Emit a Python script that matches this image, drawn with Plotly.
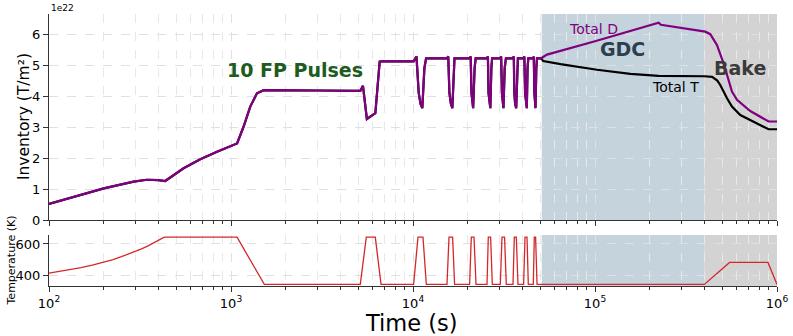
import plotly.graph_objects as go
from plotly.subplots import make_subplots

# ---------------- data ----------------
# Inventory (units of 1e22 T/m^2) common to D and T up to the end of the pulses
shared_time = [100, 142, 200, 292, 345, 400, 435, 549, 678, 838, 1080, 1172, 1276, 1389, 1512, 3000,
               5133, 5310, 5580, 6210, 6560, 6673,
               10077, 10450, 10750, 11000, 11250, 11550, 11800,
               15375, 15620, 15850, 16150, 16450, 16700, 16900,
               20464, 20750, 20950, 21150, 21400, 21800, 22100,
               25506, 25800, 26000, 26250, 26600, 26950, 27200,
               30175, 30500, 30800, 31050, 31400, 31900, 32400,
               35436, 35800, 36050, 36400, 36900, 37300, 37700,
               40528, 40900, 41300, 41700, 42200, 42600, 43000,
               45813, 46100, 46450, 46750, 47100, 47600, 48000, 50500]
shared_inv = [0.52, 0.78, 1.02, 1.24, 1.30, 1.29, 1.26, 1.67, 1.96, 2.20, 2.47, 3.01, 3.66, 4.09, 4.19, 4.18,
              4.17, 4.33, 3.26, 3.45, 5.11, 5.12,
              5.12, 5.28, 4.10, 3.75, 3.61, 4.90, 5.22,
              5.22, 5.28, 4.10, 3.75, 3.61, 4.90, 5.22,
              5.22, 5.28, 4.10, 3.75, 3.61, 4.90, 5.22,
              5.22, 5.28, 4.10, 3.75, 3.61, 4.90, 5.22,
              5.22, 5.28, 4.10, 3.75, 3.61, 4.90, 5.22,
              5.22, 5.28, 4.10, 3.75, 3.61, 4.90, 5.22,
              5.22, 5.28, 4.10, 3.75, 3.61, 4.90, 5.22,
              5.22, 5.28, 4.10, 3.75, 3.61, 4.90, 5.22, 5.22]

# Total D after the pulses (GDC and bake)
d_time = [51150, 54500, 100000, 223700, 230000, 333900, 403600, 430000, 467700, 508900,
          542000, 565600, 602600, 713000, 899000, 1000000]
d_inv = [5.24, 5.34, 5.77, 6.37, 6.30, 6.14, 6.08, 6.00, 5.65, 5.06,
         4.52, 4.15, 3.88, 3.52, 3.18, 3.18]

# Total T after the pulses (GDC and bake)
t_time = [52000, 64600, 102600, 156300, 223700, 400000, 440000, 470000, 487700, 531300,
          565600, 628600, 743600, 899000, 1000000]
t_inv = [5.13, 5.03, 4.85, 4.72, 4.65, 4.64, 4.62, 4.50, 4.36, 3.93,
         3.66, 3.39, 3.18, 2.93, 2.93]

# Surface temperature history (K)
temp_time = [100, 125, 150, 175, 200, 225, 250, 275, 300, 325, 350, 375, 400, 430, 1080, 1524,
             5133, 5538, 6207, 6673,
             10077, 10653, 11348, 11835,
             15375, 15768, 16505, 16927,
             20464, 20910, 21638, 22192,
             25506, 25927, 26697, 27275,
             30175, 30829, 31857, 32547,
             35436, 36022, 36945, 37746,
             40528, 41253, 42310, 43009,
             45813, 46396, 47163, 48025,
             398600, 549000, 892000, 1000000]
temp_K = [415, 432, 450, 467, 484, 501, 519, 536, 553, 570, 588, 605, 622, 643, 643, 343,
          343, 643, 643, 343,
          343, 643, 643, 343,
          343, 643, 643, 343,
          343, 643, 643, 343,
          343, 643, 643, 343,
          343, 643, 643, 343,
          343, 643, 643, 343,
          343, 643, 643, 343,
          343, 643, 643, 343,
          343, 483, 483, 343]

# Phase windows (s)
gdc_start, bake_start, end_time = 51000, 398000, 1000000

x_tickvals = [1e2, 1e3, 1e4, 1e5, 1e6]
x_ticktext = ["10<sup>2</sup>", "10<sup>3</sup>", "10<sup>4</sup>", "10<sup>5</sup>", "10<sup>6</sup>"]
x_minor = [m * d for d in [1e2, 1e3, 1e4, 1e5] for m in range(2, 10)]
inv_ticks = [0, 1, 2, 3, 4, 5, 6]
temp_ticks = [400, 600]

# ---------------- figure ----------------
FONT = "DejaVu Sans"
fig = make_subplots(rows=2, cols=1, shared_xaxes=True, vertical_spacing=0.0)

fig.add_trace(go.Scatter(x=shared_time + t_time, y=shared_inv + t_inv, mode="lines",
                         line=dict(color="black", width=2.2), name="Total T"), row=1, col=1)
fig.add_trace(go.Scatter(x=shared_time + d_time, y=shared_inv + d_inv, mode="lines",
                         line=dict(color="#800080", width=2.2), name="Total D"), row=1, col=1)
fig.add_trace(go.Scatter(x=temp_time, y=temp_K, mode="lines",
                         line=dict(color="#d62728", width=1.3), name="T"), row=2, col=1)

# Shaded GDC and bake phases on both panels
for xref, yref in [("x", "y domain"), ("x2", "y2 domain")]:
    fig.add_shape(type="rect", xref=xref, yref=yref, x0=gdc_start, x1=bake_start, y0=0, y1=1,
                  fillcolor="#c5d3dc", line=dict(width=0), layer="below")
    fig.add_shape(type="rect", xref=xref, yref=yref, x0=bake_start, x1=end_time, y0=0, y1=1,
                  fillcolor="#d3d3d3", line=dict(width=0), layer="below")

grid = dict(showgrid=True, gridcolor="#e0e0e0", griddash="dash", gridwidth=0.8)
xcommon = dict(type="log", range=[2, 6], showline=True, linecolor="#333", linewidth=1,
               ticks="outside", ticklen=5, tickcolor="#333", tickvals=x_tickvals, ticktext=x_ticktext,
               minor=dict(tickvals=x_minor, ticks="outside", ticklen=3, tickcolor="#333", showgrid=True,
                          gridcolor="#e8e8e8", griddash="dash", gridwidth=0.7),
               zeroline=False, automargin=False, **grid)

fig.update_xaxes(**xcommon, showticklabels=False, row=1, col=1)
fig.update_xaxes(**xcommon, showticklabels=True,
                 tickfont=dict(size=13, color="black", family=FONT), row=2, col=1)

fig.update_yaxes(range=[0, 6.65], tickvals=inv_ticks, showline=True, linecolor="#333", linewidth=1,
                 ticks="outside", ticklen=5, tickcolor="#333", zeroline=False, automargin=False,
                 tickfont=dict(size=13, color="black", family=FONT), **grid, row=1, col=1)
fig.update_yaxes(range=[333, 657], tickvals=temp_ticks, showline=True, linecolor="#333", linewidth=1,
                 ticks="outside", ticklen=5, tickcolor="#333", zeroline=False, automargin=False,
                 tickfont=dict(size=13, color="black", family=FONT), **grid, row=2, col=1)

fig.update_layout(
    width=793, height=336,
    margin=dict(l=49, r=16, t=14, b=50),
    paper_bgcolor="white", plot_bgcolor="white",
    showlegend=False,
    font=dict(family=FONT, color="black"),
    yaxis=dict(domain=[0.2426, 1.0]),
    yaxis2=dict(domain=[0.0, 0.1875]),
)

ann = [
    # axis titles
    dict(text="Time (s)", xref="paper", yref="paper", x=0.4986, y=-0.135, xanchor="center", yanchor="middle",
         font=dict(size=22.5), showarrow=False),
    dict(text="Inventory (T/m²)", xref="paper", yref="paper", x=-0.0343, y=0.621, textangle=-90,
         xanchor="center", yanchor="middle", font=dict(size=15.5), showarrow=False),
    dict(text="Temperature (K)", xref="paper", yref="paper", x=-0.0522, y=0.0938, textangle=-90,
         xanchor="center", yanchor="middle", font=dict(size=11), showarrow=False),
    dict(text="1e22", xref="paper", yref="paper", x=0, y=1, xanchor="left", yanchor="bottom",
         font=dict(size=9), showarrow=False, yshift=-1),
    # phase labels
    dict(text="<b>10 FP Pulses</b>", x=3.353, y=4.85, xref="x", yref="y",
         font=dict(size=19, color="#1d5c1d"), showarrow=False),
    dict(text="Total D", x=4.991, y=6.16, xref="x", yref="y",
         font=dict(size=14, color="#800080"), showarrow=False),
    dict(text="<b>GDC</b>", x=5.153, y=5.52, xref="x", yref="y",
         font=dict(size=19, color="#2c3e50"), showarrow=False),
    dict(text="Total T", x=5.441, y=4.29, xref="x", yref="y",
         font=dict(size=14, color="black"), showarrow=False),
    dict(text="<b>Bake</b>", x=5.798, y=4.90, xref="x", yref="y",
         font=dict(size=19, color="#3a3a3a"), showarrow=False),
]
fig.update_layout(annotations=ann)

fig.write_html("out.html")
